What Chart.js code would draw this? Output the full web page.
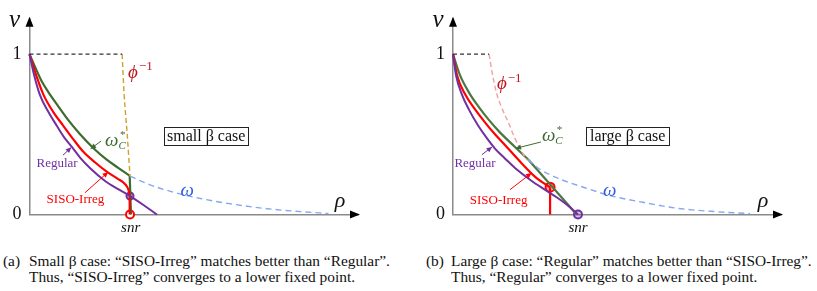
<!DOCTYPE html>
<html lang="en">
<head>
  <meta charset="UTF-8" />
  <title>Small and large beta case</title>
  <script src="https://cdn.jsdelivr.net/npm/chart.js"></script>
  <style>
    body { margin: 0; background: #fff; width: 817px; height: 291px; overflow: hidden; position: relative; }
    canvas { position: absolute; top: 0; }
    #chartA { left: 0; }
    #chartB { left: 410px; }
    .cap { position: absolute; font-size: 15px; color: #111;
      white-space: nowrap; transform-origin: 0 50%; line-height: 16px; }
  </style>
</head>

<body>
  <canvas id="chartA" width="410" height="240"></canvas>
  <canvas id="chartB" width="407" height="240"></canvas>

  <div class="cap" style="left:3px;top:253px">(a)</div>
  <div class="cap line" style="left:29px;top:253px">Small β case: “SISO-Irreg” matches better than “Regular”.</div>
  <div class="cap line" style="left:29px;top:269px">Thus, “SISO-Irreg” converges to a lower fixed point.</div>
  <div class="cap" style="left:426px;top:253px">(b)</div>
  <div class="cap line" style="left:451px;top:253px">Large β case: “Regular” matches better than “SISO-Irreg”.</div>
  <div class="cap line" style="left:451px;top:269px">Thus, “Regular” converges to a lower fixed point.</div>

  <script>
    // ---- data (rho, v) ----
    // small beta case
    const smallRegular = [[0, 1], [0.14, 0.87], [0.32, 0.744], [0.56, 0.645], [0.83, 0.553], [1.05, 0.482],
      [1.29, 0.421], [1.54, 0.355], [1.84, 0.29], [2.3, 0.209], [2.7, 0.158], [3.06, 0.115], [3.46, 0.061], [3.88, 0]];
    const smallIrreg = [[0, 1], [0.2, 0.87], [0.42, 0.749], [0.72, 0.64], [1.03, 0.553], [1.33, 0.47],
      [1.64, 0.391], [2.0, 0.324], [2.35, 0.267], [2.7, 0.221], [2.91, 0.189], [3.01, 0.155], [3.05, 0.118]];
    const smallIrregDrop = [[3.05, 0.118], [3.05, 0]];
    const smallOmegaC = [[0, 1], [0.2, 0.906], [0.38, 0.827], [0.6, 0.755], [0.87, 0.676], [1.17, 0.591],
      [1.54, 0.5], [1.94, 0.415], [2.35, 0.342], [2.7, 0.291], [3.05, 0.242]];
    const smallOmegaCDrop = [[3.05, 0.242], [3.09, 0]];
    const smallPhiInv = [[2.82, 1], [2.88, 0.749], [2.97, 0.512], [3.06, 0.239]];
    const smallTop = [[0, 1], [2.82, 1]];
    const smallOmega = [[3.06, 0.239], [3.67, 0.185], [4.44, 0.136], [5.2, 0.1], [6.2, 0.064], [7.24, 0.036],
      [8.25, 0.018], [9.1, 0.006]];
    const smallSnr = 3.08;
    const smallRedMark = [[3.06, 0]];
    const smallPurpleMark = [[3.06, 0.115]];

    // large beta case
    const largeRegular = [[0, 1], [0.09, 0.87], [0.27, 0.749], [0.49, 0.652], [0.77, 0.553], [1.01, 0.482],
      [1.28, 0.411], [1.59, 0.348], [1.89, 0.29], [2.4, 0.209], [2.8, 0.155], [3.17, 0.106], [3.51, 0.055], [3.81, 0]];
    const largeIrreg = [[0, 1], [0.12, 0.87], [0.37, 0.749], [0.64, 0.664], [0.98, 0.573], [1.28, 0.5],
      [1.59, 0.432], [2.09, 0.32], [2.55, 0.227], [2.96, 0.17]];
    const largeIrregDrop = [[2.96, 0.17], [2.96, 0]];
    const largeOmegaC = [[0, 1], [0.21, 0.87], [0.52, 0.749], [0.79, 0.67], [1.08, 0.593], [1.43, 0.512],
      [1.89, 0.421], [2.3, 0.341]];
    const largeOmegaCDrop = [[2.3, 0.341], [3.77, 0]];
    const largePhiInv = [[1.1, 1], [1.19, 0.888], [1.33, 0.755], [1.49, 0.664], [1.69, 0.573], [1.86, 0.488],
      [2.04, 0.411], [2.26, 0.339]];
    const largeTop = [[0, 1], [1.1, 1]];
    const largeOmega = [[2.29, 0.342], [2.65, 0.282], [3.26, 0.221], [4.02, 0.167], [4.79, 0.118], [5.79, 0.076],
      [6.83, 0.039], [7.99, 0.018], [9.05, 0.006]];
    const largeSnr = 3.81;
    const largeRedMark = [[2.96, 0.17]];
    const largePurpleMark = [[3.81, 0]];

    const yTicks = [0, 1];

    const GREEN = "#3f6b2f", RED = "#ff0000", PURPLE = "#7030a0", BLUE = "#86a8f2";

    // pick a serif face that is really installed (fall back quietly otherwise)
    function pickFont(list) {
      const c = document.createElement("canvas").getContext("2d");
      const probe = "Regular SISO-Irreg ωρϕ 1234567890";
      for (const f of list) {
        for (const base of ["monospace", "sans-serif"]) {
          c.font = "40px " + base;
          const w0 = c.measureText(probe).width;
          c.font = '40px "' + f + '", ' + base;
          if (Math.abs(c.measureText(probe).width - w0) > 0.5) return '"' + f + '", serif';
        }
      }
      return "serif";
    }
    const SERIF = pickFont(["Liberation Serif", "Times New Roman", "Tinos", "Nimbus Roman", "DejaVu Serif", "Noto Serif", "FreeSerif"]);
    document.querySelectorAll(".cap").forEach(el => { el.style.fontFamily = SERIF; });
    Chart.defaults.font.family = SERIF;

    function pts(a) { return a.map(p => ({ x: p[0], y: p[1] })); }

    function line(data, color, width, dash, smooth) {
      const ds = {
        data: pts(data), borderColor: color, borderWidth: width, borderDash: dash || [],
        showLine: true, pointRadius: 0, tension: 0, clip: false
      };
      if (smooth !== false) { ds.cubicInterpolationMode = "monotone"; ds.tension = 0.4; }
      return ds;
    }

    function mark(data, color, fill, r) {
      return {
        data: pts(data), showLine: false, pointRadius: r, pointBorderColor: color,
        pointBackgroundColor: fill, pointBorderWidth: 2, clip: false
      };
    }

    /* texts and arrows drawn on top, placed with the chart's own scales */
    function arrowHead(ctx, x1, y1, x2, y2, size, color) {
      const a = Math.atan2(y2 - y1, x2 - x1);
      ctx.fillStyle = color;
      ctx.beginPath();
      ctx.moveTo(x2, y2);
      ctx.lineTo(x2 - size * Math.cos(a - 0.45), y2 - size * Math.sin(a - 0.45));
      ctx.lineTo(x2 - size * Math.cos(a + 0.45), y2 - size * Math.sin(a + 0.45));
      ctx.closePath();
      ctx.fill();
    }

    function labelPlugin(lab) {
      return {
        id: "labels",
        afterDraw(chart) {
          const ctx = chart.ctx, xs = chart.scales.x, ys = chart.scales.y, ca = chart.chartArea;
          const X = v => xs.getPixelForValue(v), Y = v => ys.getPixelForValue(v);
          ctx.save();
          // axis arrows
          ctx.fillStyle = "#000";
          ctx.beginPath();
          ctx.moveTo(ca.left, ca.top - 2); ctx.lineTo(ca.left - 4, ca.top + 8); ctx.lineTo(ca.left + 4, ca.top + 8);
          ctx.fill();
          ctx.beginPath();
          ctx.moveTo(ca.right + 2, ca.bottom); ctx.lineTo(ca.right - 8, ca.bottom - 4); ctx.lineTo(ca.right - 8, ca.bottom + 4);
          ctx.fill();

          ctx.textBaseline = "middle";
          ctx.fillStyle = "#111";
          ctx.font = "italic 25px " + SERIF;
          ctx.textAlign = "center";
          ctx.fillText("v", ca.left - 15, ca.top + 2);
          ctx.font = "italic 22px " + SERIF;
          ctx.fillText("ρ", X(9.45), Y(0.085));

          // phi^-1
          ctx.textAlign = "left";
          ctx.fillStyle = "#c0141c";
          ctx.font = "italic 19px " + SERIF;
          ctx.fillText("ϕ", X(lab.phi[0]), Y(lab.phi[1]));
          const pw = ctx.measureText("ϕ").width;
          ctx.font = "13px " + SERIF;
          ctx.fillText("−1", X(lab.phi[0]) + pw + 1, Y(lab.phi[1]) - 6);

          // omega_C^*
          ctx.fillStyle = GREEN;
          ctx.font = "italic 19px " + SERIF;
          const wx = X(lab.wc[0]), wy = Y(lab.wc[1]);
          ctx.fillText("ω", wx, wy);
          const ww = ctx.measureText("ω").width;
          ctx.font = "italic 11px " + SERIF;
          ctx.fillText("C", wx + ww, wy + 5);
          ctx.fillText("*", wx + ww + 1, wy - 6);
          ctx.strokeStyle = GREEN; ctx.lineWidth = 1;
          let a = lab.wcArrow;
          ctx.beginPath(); ctx.moveTo(X(a[0]), Y(a[1])); ctx.lineTo(X(a[2]), Y(a[3])); ctx.stroke();
          arrowHead(ctx, X(a[0]), Y(a[1]), X(a[2]), Y(a[3]), 6, GREEN);

          // Regular
          ctx.textAlign = "center";
          ctx.fillStyle = PURPLE;
          ctx.font = "13px " + SERIF;
          ctx.fillText("Regular", X(lab.reg[0]), Y(lab.reg[1]));
          ctx.strokeStyle = PURPLE;
          a = lab.regArrow;
          ctx.beginPath(); ctx.moveTo(X(a[0]), Y(a[1])); ctx.lineTo(X(a[2]), Y(a[3])); ctx.stroke();
          arrowHead(ctx, X(a[0]), Y(a[1]), X(a[2]), Y(a[3]), 6, PURPLE);

          // SISO-Irreg
          ctx.fillStyle = RED;
          ctx.font = "13px " + SERIF;
          ctx.fillText("SISO-Irreg", X(lab.irr[0]), Y(lab.irr[1]));
          ctx.strokeStyle = RED;
          a = lab.irrArrow;
          ctx.beginPath(); ctx.moveTo(X(a[0]), Y(a[1])); ctx.lineTo(X(a[2]), Y(a[3])); ctx.stroke();
          arrowHead(ctx, X(a[0]), Y(a[1]), X(a[2]), Y(a[3]), 6, RED);

          // omega
          ctx.fillStyle = "#2f5be8";
          ctx.font = "italic 19px " + SERIF;
          ctx.fillText("ω", X(lab.w[0]), Y(lab.w[1]));

          // case box
          const b = lab.box;
          const bx = X(b[0]), by = Y(b[1]), bw = X(b[2]) - bx, bh = Y(b[3]) - by;
          ctx.strokeStyle = "#222"; ctx.lineWidth = 1;
          ctx.strokeRect(Math.round(bx) + 0.5, Math.round(by) + 0.5, Math.round(bw), Math.round(bh));
          ctx.fillStyle = "#111";
          ctx.font = "16px " + SERIF;
          ctx.fillText(lab.boxText, bx + bw / 2, by + bh / 2 + 1);
          ctx.restore();
        }
      };
    }

    function makePanel(id, sets, snr, leftW, rightPad, lab) {
      new Chart(document.getElementById(id), {
        type: "scatter",
        data: { datasets: sets },
        options: {
          responsive: false,
          animation: false,
          layout: { padding: { top: 13, right: rightPad, left: 0, bottom: 0 } },
          plugins: { legend: { display: false }, tooltip: { enabled: false } },
          scales: {
            x: {
              type: "linear", min: 0, max: 10,
              grid: { display: false, drawTicks: false },
              border: { color: "#8a8a8a", width: 1.5 },
              afterBuildTicks: s => { s.ticks = [{ value: snr }]; },
              afterFit: s => { s.height = 25.5; },
              ticks: { callback: () => "snr", color: "#111", padding: 5, font: { size: 15, style: "italic" } }
            },
            y: {
              type: "linear", min: 0, max: 1.22,
              grid: { display: false, drawTicks: false },
              border: { color: "#8a8a8a", width: 1.5 },
              afterBuildTicks: s => { s.ticks = yTicks.map(v => ({ value: v })); },
              afterFit: s => { s.width = leftW; },
              ticks: { color: "#111", padding: 8, font: { size: 18 } }
            }
          }
        },
        plugins: [labelPlugin(lab)]
      });
    }

    makePanel("chartA", [
      line(smallTop, "#333", 1.2, [4, 3], false),
      line(smallPhiInv, "#d1a12c", 1.4, [5, 3]),
      line(smallOmega, BLUE, 1.4, [6, 4]),
      line(smallRegular, PURPLE, 2),
      line(smallIrreg, RED, 2.2),
      line(smallIrregDrop, RED, 2.2, [], false),
      line(smallOmegaC, GREEN, 2.2),
      line(smallOmegaCDrop, GREEN, 2.2, [], false),
      mark(smallPurpleMark, PURPLE, "rgba(112,48,160,0.35)", 3.5),
      mark(smallRedMark, RED, "#fff", 4)
    ], smallSnr, 29.5, 52, {
      phi: [3.0, 0.885], wc: [2.3, 0.46], wcArrow: [2.18, 0.458, 1.86, 0.41],
      reg: [0.84, 0.318], regArrow: [1.02, 0.37, 1.27, 0.418],
      irr: [1.4, 0.09], irrArrow: [1.69, 0.136, 2.39, 0.264],
      w: [4.8, 0.148], box: [4.1, 0.548, 6.66, 0.437], boxText: "small β case"
    });

    makePanel("chartB", [
      line(largeTop, "#333", 1.2, [4, 3], false),
      line(largePhiInv, "#f2a0a0", 1.4, [5, 3]),
      line(largeOmega, BLUE, 1.4, [6, 4]),
      line(largeRegular, PURPLE, 2),
      line(largeIrreg, RED, 2.2),
      line(largeIrregDrop, RED, 2.2, [], false),
      line(largeOmegaC, "#4a7840", 2.2),
      line(largeOmegaCDrop, "#4a7840", 2.2, [], false),
      mark(largeRedMark, RED, "rgba(255,120,120,0.6)", 4.5),
      mark(largePurpleMark, PURPLE, "rgba(112,48,160,0.3)", 4)
    ], largeSnr, 43, 36, {
      phi: [1.34, 0.812], wc: [2.71, 0.49], wcArrow: [2.68, 0.452, 1.91, 0.412],
      reg: [0.67, 0.318], regArrow: [0.88, 0.373, 1.19, 0.421],
      irr: [1.39, 0.088], irrArrow: [1.74, 0.155, 2.39, 0.258],
      w: [4.78, 0.148], box: [4.06, 0.548, 6.59, 0.433], boxText: "large β case"
    });

    // the caption font in the figure is a narrow Times; fit line one to the same width
    const target = 361;
    const first = document.querySelectorAll(".line")[0];
    const k = target / first.getBoundingClientRect().width;
    document.querySelectorAll(".cap").forEach(el => { el.style.transform = "scaleX(" + k.toFixed(3) + ")"; });
  </script>
</body>

</html>
